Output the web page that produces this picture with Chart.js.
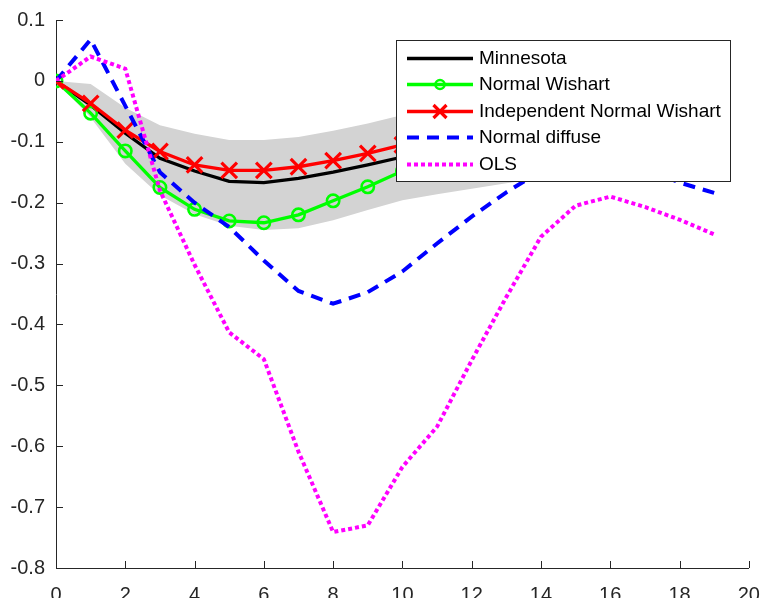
<!DOCTYPE html>
<html>
<head>
<meta charset="utf-8">
<script src="https://cdn.jsdelivr.net/npm/chart.js@4.4.0/dist/chart.umd.min.js"></script>
<style>
body { margin: 0; background: #fff; }
#wrap { width: 763px; height: 598px; }
</style>
</head>
<body>
<div id="wrap"><canvas id="irf" width="763" height="598"></canvas></div>
<script>
// impulse response horizon
var horizon = [0, 1, 2, 3, 4, 5, 6, 7, 8, 9, 10, 11, 12, 13, 14, 15, 16, 17, 18, 19];

var minnesota = [0, -0.040, -0.086, -0.127, -0.148, -0.165, -0.167, -0.160, -0.150, -0.138,
	-0.125, -0.112, -0.099, -0.087, -0.076, -0.066, -0.058, -0.051, -0.045, -0.040];
var normalWishart = [0, -0.053, -0.115, -0.175, -0.211, -0.230, -0.233, -0.220, -0.197, -0.174,
	-0.148, -0.125, -0.105, -0.088, -0.073, -0.061, -0.051, -0.043, -0.036, -0.030];
var indepNormalWishart = [0, -0.037, -0.081, -0.116, -0.138, -0.147, -0.147, -0.141, -0.131, -0.119,
	-0.105, -0.093, -0.082, -0.072, -0.063, -0.055, -0.048, -0.042, -0.037, -0.033];
var normalDiffuse = [0, 0.068, -0.041, -0.150, -0.200, -0.240, -0.295, -0.345, -0.366, -0.347,
	-0.313, -0.267, -0.223, -0.183, -0.148, -0.132, -0.128, -0.143, -0.167, -0.184];
var olsResp = [0, 0.040, 0.020, -0.180, -0.302, -0.413, -0.457, -0.609, -0.741, -0.730,
	-0.634, -0.568, -0.459, -0.355, -0.256, -0.205, -0.190, -0.207, -0.228, -0.252];

// credible band around Minnesota
var bandUpper = [0, -0.005, -0.044, -0.073, -0.087, -0.097, -0.097, -0.092, -0.082, -0.070,
	-0.056, -0.046, -0.038, -0.031, -0.025, -0.020, -0.016, -0.013, -0.011, -0.009];
var bandLower = [0, -0.060, -0.136, -0.188, -0.219, -0.238, -0.245, -0.242, -0.229, -0.212,
	-0.196, -0.186, -0.177, -0.168, -0.160, -0.153, -0.147, -0.142, -0.138, -0.135];

var xTickValues = [0, 2, 4, 6, 8, 10, 12, 14, 16, 18, 20];
var yTickValues = [-0.8, -0.7, -0.6, -0.5, -0.4, -0.3, -0.2, -0.1, 0, 0.1];

function pts(arr) {
	return horizon.map(function(h, i) { return { x: h, y: arr[i] }; });
}

var axisColor = '#262626';
var fontFam = '"Liberation Sans", Arial, Helvetica, sans-serif';

// ticks pointing into the plot, like the original figure
var innerTicks = {
	id: 'innerTicks',
	afterDatasetsDraw: function(chart) {
		var ctx = chart.ctx, xs = chart.scales.x, ys = chart.scales.y, a = chart.chartArea;
		ctx.save();
		ctx.strokeStyle = axisColor;
		ctx.lineWidth = 1;
		ctx.beginPath();
		xs.ticks.forEach(function(t) {
			var px = Math.round(xs.getPixelForValue(t.value)) + 0.5;
			ctx.moveTo(px, a.bottom);
			ctx.lineTo(px, a.bottom - 7);
		});
		ys.ticks.forEach(function(t) {
			var py = Math.round(ys.getPixelForValue(t.value)) + 0.5;
			ctx.moveTo(a.left, py);
			ctx.lineTo(a.left + 7, py);
		});
		ctx.stroke();
		ctx.restore();
	}
};

// boxed legend sitting on top of the lines
var boxLegend = {
	id: 'boxLegend',
	afterDraw: function(chart) {
		var ctx = chart.ctx;
		var bx = 396, by = 40, bw = 334, bh = 141;
		ctx.save();
		ctx.fillStyle = '#fff';
		ctx.fillRect(bx, by, bw, bh);
		ctx.strokeStyle = axisColor;
		ctx.lineWidth = 1;
		ctx.strokeRect(bx + 0.5, by + 0.5, bw, bh);

		var row = 0;
		chart.data.datasets.forEach(function(ds) {
			if (!ds.label) return;
			var y = Math.round(58 + row * 26.4) + 0.5;
			ctx.save();
			ctx.strokeStyle = ds.borderColor;
			ctx.lineWidth = ds.borderWidth;
			ctx.setLineDash(ds.borderDash || []);
			ctx.beginPath();
			ctx.moveTo(407, y);
			ctx.lineTo(473, y);
			ctx.stroke();
			ctx.setLineDash([]);
			var cx = 440;
			if (ds.pointStyle === 'circle' && ds.pointRadius > 0) {
				ctx.lineWidth = ds.pointBorderWidth;
				ctx.beginPath();
				ctx.arc(cx, y, 4.5, 0, Math.PI * 2);
				ctx.stroke();
			} else if (ds.pointStyle === 'crossRot' && ds.pointRadius > 0) {
				ctx.lineWidth = ds.pointBorderWidth;
				var d = 6.5;
				ctx.beginPath();
				ctx.moveTo(cx - d, y - d); ctx.lineTo(cx + d, y + d);
				ctx.moveTo(cx - d, y + d); ctx.lineTo(cx + d, y - d);
				ctx.stroke();
			}
			ctx.restore();
			ctx.fillStyle = '#000';
			ctx.font = '19px ' + fontFam;
			ctx.textBaseline = 'middle';
			ctx.textAlign = 'left';
			ctx.fillText(ds.label, 479, y);
			row++;
		});
		ctx.restore();
	}
};

var datasets = [
	{
		data: pts(bandUpper),
		borderColor: 'rgba(0,0,0,0)', borderWidth: 0, pointRadius: 0,
		fill: '+1', backgroundColor: '#d3d3d3', order: 6
	},
	{
		data: pts(bandLower),
		borderColor: 'rgba(0,0,0,0)', borderWidth: 0, pointRadius: 0,
		fill: false, order: 7
	},
	{
		label: 'Minnesota', data: pts(minnesota),
		borderColor: '#000000', borderWidth: 3.3, pointRadius: 0, order: 5
	},
	{
		label: 'Normal Wishart', data: pts(normalWishart),
		borderColor: '#00ff00', borderWidth: 3.3,
		pointStyle: 'circle', pointRadius: 6.2, pointBorderWidth: 2.6,
		pointBorderColor: '#00ff00', pointBackgroundColor: 'rgba(0,0,0,0)', order: 4
	},
	{
		label: 'Independent Normal Wishart', data: pts(indepNormalWishart),
		borderColor: '#ff0000', borderWidth: 3.3,
		pointStyle: 'crossRot', pointRadius: 11, pointBorderWidth: 3.2,
		pointBorderColor: '#ff0000', pointBackgroundColor: 'rgba(0,0,0,0)', order: 3
	},
	{
		label: 'Normal diffuse', data: pts(normalDiffuse),
		borderColor: '#0000ff', borderWidth: 4, borderDash: [12, 8], pointRadius: 0, order: 2
	},
	{
		label: 'OLS', data: pts(olsResp),
		borderColor: '#ff00ff', borderWidth: 4, borderDash: [4, 3], pointRadius: 0, order: 1
	}
];

var chart = new Chart(document.getElementById('irf'), {
	type: 'line',
	data: { datasets: datasets },
	options: {
		responsive: false,
		devicePixelRatio: 1,
		animation: false,
		events: [],
		layout: { padding: { top: 20, right: 12, left: 0, bottom: 0 } },
		elements: { line: { tension: 0 } },
		plugins: {
			legend: { display: false },
			tooltip: { enabled: false }
		},
		scales: {
			x: {
				type: 'linear', min: 0, max: 20,
				grid: { display: false, drawTicks: false },
				border: { display: true, color: axisColor, width: 1 },
				ticks: { color: axisColor, font: { family: fontFam, size: 20 }, padding: 15, maxRotation: 0 },
				afterBuildTicks: function(s) { s.ticks = xTickValues.map(function(v) { return { value: v }; }); },
				afterFit: function(s) { s.height = 30; s.paddingLeft = 0; s.paddingRight = 0; }
			},
			y: {
				type: 'linear', min: -0.8, max: 0.1,
				grid: { display: false, drawTicks: false },
				border: { display: true, color: axisColor, width: 1 },
				ticks: {
					color: axisColor, font: { family: fontFam, size: 20 }, padding: 11,
					callback: function(v) { return String(Number(v.toFixed(1))); }
				},
				afterBuildTicks: function(s) { s.ticks = yTickValues.map(function(v) { return { value: v }; }); },
				afterFit: function(s) { s.width = 56; s.paddingTop = 0; s.paddingBottom = 0; }
			}
		}
	},
	plugins: [innerTicks, boxLegend]
});
</script>
</body>
</html>
